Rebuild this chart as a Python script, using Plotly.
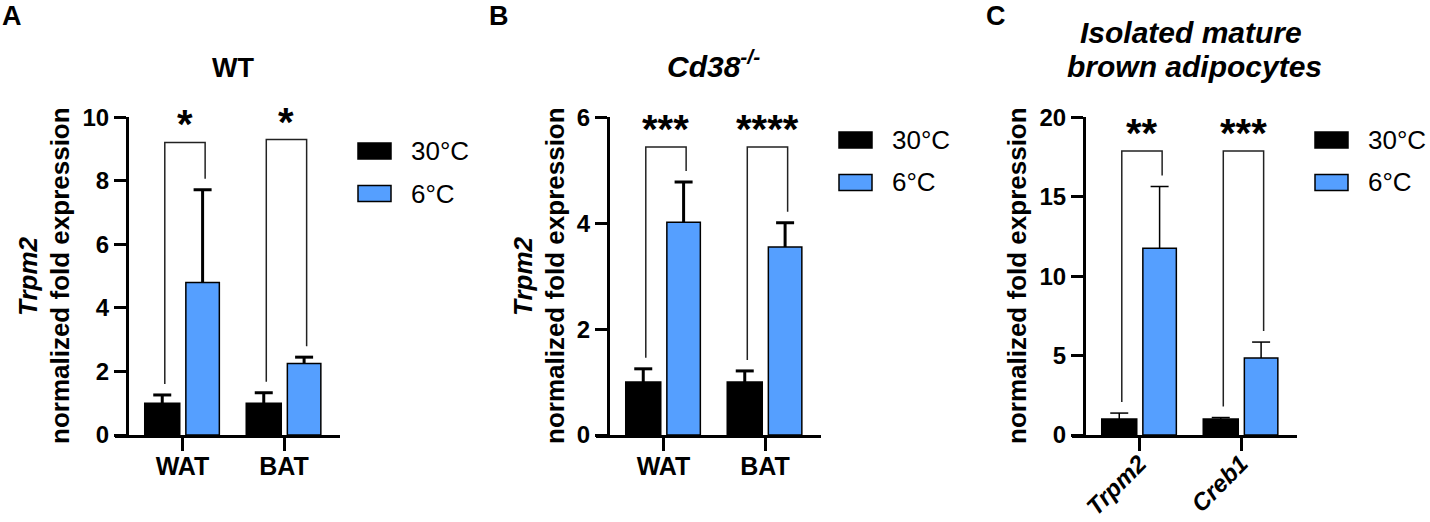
import plotly.graph_objects as go

W, H = 1430, 522
FONT = "Arial, Liberation Sans, sans-serif"
BLUE = "#559FFF"

# values (mean, upper SD, bracket height, stars)
groups_wt = ["WAT", "BAT"]
warm_wt = [1.0, 1.0]
warm_wt_sd = [0.26, 0.33]
cold_wt = [4.8, 2.25]
cold_wt_sd = [2.92, 0.2]
bracket_wt = [9.21, 9.3]
stars_wt = ["*", "*"]

groups_ko = ["WAT", "BAT"]
warm_ko = [1.0, 1.0]
warm_ko_sd = [0.25, 0.21]
cold_ko = [4.02, 3.55]
cold_ko_sd = [0.76, 0.46]
bracket_ko = [5.44, 5.44]
stars_ko = ["***", "****"]

genes_bat = ["Trpm2", "Creb1"]
warm_bat = [1.0, 1.0]
warm_bat_sd = [0.38, 0.1]
cold_bat = [11.75, 4.85]
cold_bat_sd = [3.9, 1.0]
bracket_bat = [17.88, 17.88]
stars_bat = ["**", "***"]

legend_names = ["30°C", "6°C"]


def fx(p):
    return p / W


def fy(p):
    return 1 - p / H


panels = [
    dict(x0=127, groups=groups_wt, warm=warm_wt, warm_sd=warm_wt_sd, cold=cold_wt,
         cold_sd=cold_wt_sd, bracket=bracket_wt, stars=stars_wt, ymax=10, dtick=2,
         errw=3, leg_y=151, italic_ticks=False, letter="A", letter_x=0),
    dict(x0=608, groups=groups_ko, warm=warm_ko, warm_sd=warm_ko_sd, cold=cold_ko,
         cold_sd=cold_ko_sd, bracket=bracket_ko, stars=stars_ko, ymax=6, dtick=2,
         errw=3, leg_y=140, italic_ticks=False, letter="B", letter_x=487),
    dict(x0=1084, groups=genes_bat, warm=warm_bat, warm_sd=warm_bat_sd, cold=cold_bat,
         cold_sd=cold_bat_sd, bracket=bracket_bat, stars=stars_bat, ymax=20, dtick=5,
         errw=1.5, leg_y=140, italic_ticks=True, letter="C", letter_x=984),
]

Y0_PX, YTOP_PX = 435, 117.3
UNIT = 101.5          # px between group centres
W_BLACK, OFF_BLACK = 0.345, -0.372
W_BLUE, OFF_BLUE = 0.33, 0.033

fig = go.Figure()
annotations = []
shapes = []
layout = {}

for i, p in enumerate(panels):
    n = "" if i == 0 else str(i + 1)
    xa, ya = "x" + n, "y" + n
    x0 = p["x0"]
    scale = (Y0_PX - YTOP_PX) / p["ymax"]
    gap = 11 / scale
    capw = 9 / UNIT

    series = [
        (p["warm"], p["warm_sd"], OFF_BLACK, W_BLACK, "black"),
        (p["cold"], p["cold_sd"], OFF_BLUE, W_BLUE, BLUE),
    ]
    centres = []
    for means, sds, off, wid, col in series:
        fig.add_trace(go.Bar(
            x=[0, 1], y=means, width=wid, offset=off, xaxis=xa, yaxis=ya,
            marker=dict(color=col, line=dict(color="black", width=1.5)),
            showlegend=False, hoverinfo="skip",
        ))
        cs = [k + off + wid / 2 for k in range(2)]
        centres.append(cs)
        ex, ey = [], []
        for c, m, e in zip(cs, means, sds):
            ex += [c, c, None, c - capw, c + capw, None]
            ey += [m, m + e, None, m + e, m + e, None]
        fig.add_trace(go.Scatter(
            x=ex, y=ey, mode="lines", xaxis=xa, yaxis=ya,
            line=dict(color="black", width=p["errw"]),
            showlegend=False, hoverinfo="skip", cliponaxis=False,
        ))

    # significance brackets
    bx, by = [], []
    for g in range(2):
        left, right = centres[0][g] + 0.025, centres[1][g] + 0.025
        lb = p["warm"][g] + p["warm_sd"][g] + gap
        rb = p["cold"][g] + p["cold_sd"][g] + gap
        top = p["bracket"][g]
        bx += [left, left, right, right, None]
        by += [lb, top, top, rb, None]
        annotations.append(dict(
            x=(left + right) / 2, y=top, xref=xa, yref=ya, text=p["stars"][g],
            showarrow=False, yanchor="bottom", yshift=-6,
            font=dict(family=FONT, size=40, color="black", weight="bold"),
        ))
    fig.add_trace(go.Scatter(
        x=bx, y=by, mode="lines", xaxis=xa, yaxis=ya,
        line=dict(color="#222222", width=1.5),
        showlegend=False, hoverinfo="skip", cliponaxis=False,
    ))

    tickfont = dict(family=FONT, size=24, color="black", weight="bold")
    xtickfont = dict(tickfont, size=25)
    if p["italic_ticks"]:
        xtickfont.update(style="italic", size=24)
    layout["xaxis" + n] = dict(
        domain=[fx(x0 - 12), fx(x0 + 213)],
        range=[(-12 - 55.5) / UNIT, (213 - 55.5) / UNIT],
        anchor=ya, tickmode="array", tickvals=[0, 1], ticktext=p["groups"],
        showline=True, linewidth=3, linecolor="black", ticks="outside",
        ticklen=13, tickwidth=3, tickcolor="black", showgrid=False,
        zeroline=False, tickfont=xtickfont, automargin=False,
        tickangle=-45 if p["italic_ticks"] else 0,
        ticklabelstandoff=-11 if p["italic_ticks"] else -6,
    )
    layout["yaxis" + n] = dict(
        domain=[fy(Y0_PX), fy(YTOP_PX)], range=[0, p["ymax"]],
        anchor="free", position=fx(x0), tickmode="linear", tick0=0,
        dtick=p["dtick"], showline=True, linewidth=3, linecolor="black",
        ticks="outside", ticklen=12, tickwidth=3, tickcolor="black",
        showgrid=False, zeroline=False, tickfont=tickfont, automargin=False,
    )

    # legend
    for k, (name, col) in enumerate(zip(legend_names, ["black", BLUE])):
        cy = p["leg_y"] + k * 42.5
        shapes.append(dict(
            type="rect", xref="paper", yref="paper",
            x0=fx(x0 + 231), x1=fx(x0 + 264), y0=fy(cy + 8), y1=fy(cy - 8),
            fillcolor=col, line=dict(color="black", width=1.5),
        ))
        annotations.append(dict(
            x=fx(x0 + 282), y=fy(cy), xref="paper", yref="paper", text=name,
            showarrow=False, xanchor="left", yanchor="middle",
            font=dict(family=FONT, size=26, color="black"),
        ))

    annotations.append(dict(
        x=fx(p["letter_x"]), y=fy(16), xref="paper", yref="paper",
        text=p["letter"], showarrow=False, xanchor="left", yanchor="middle",
        font=dict(family=FONT, size=27, color="black", weight="bold"),
    ))

bold = dict(family=FONT, size=26, color="black", weight="bold")
bold_it = dict(bold, style="italic")

# axis titles
ytitles = [
    (28, "Trpm2", bold_it), (60, "normalized fold expression", bold),
    (523, "Trpm2", bold_it), (555, "normalized fold expression", bold),
    (1017, "normalized fold expression", bold),
]
for xp, txt, f in ytitles:
    annotations.append(dict(
        x=fx(xp), y=fy(276), xref="paper", yref="paper", text=txt,
        textangle=-90, showarrow=False, xanchor="center", yanchor="middle",
        font=f,
    ))

# panel titles
titles = [
    (233, 68, "WT", dict(bold, size=27)),
    (713, 64, "Cd38<sup>-/-</sup>", dict(bold_it, size=30)),
    (1191, 33, "Isolated mature", dict(bold_it, size=30)),
    (1194, 67, "brown adipocytes", dict(bold_it, size=30)),
]
for xp, yp, txt, f in titles:
    annotations.append(dict(
        x=fx(xp), y=fy(yp), xref="paper", yref="paper", text=txt,
        showarrow=False, xanchor="center", yanchor="middle", font=f,
    ))

fig.update_layout(
    template="none",
    width=W, height=H, margin=dict(l=0, r=0, t=0, b=0, autoexpand=False),
    paper_bgcolor="white", plot_bgcolor="white", barmode="overlay",
    annotations=annotations, shapes=shapes, showlegend=False,
    **layout,
)

# drop the browser's default 8px body margin so the figure fills the window
fig.write_html(
    "out.html",
    config={"displayModeBar": False},
    post_script="document.body.style.margin='0';",
)
